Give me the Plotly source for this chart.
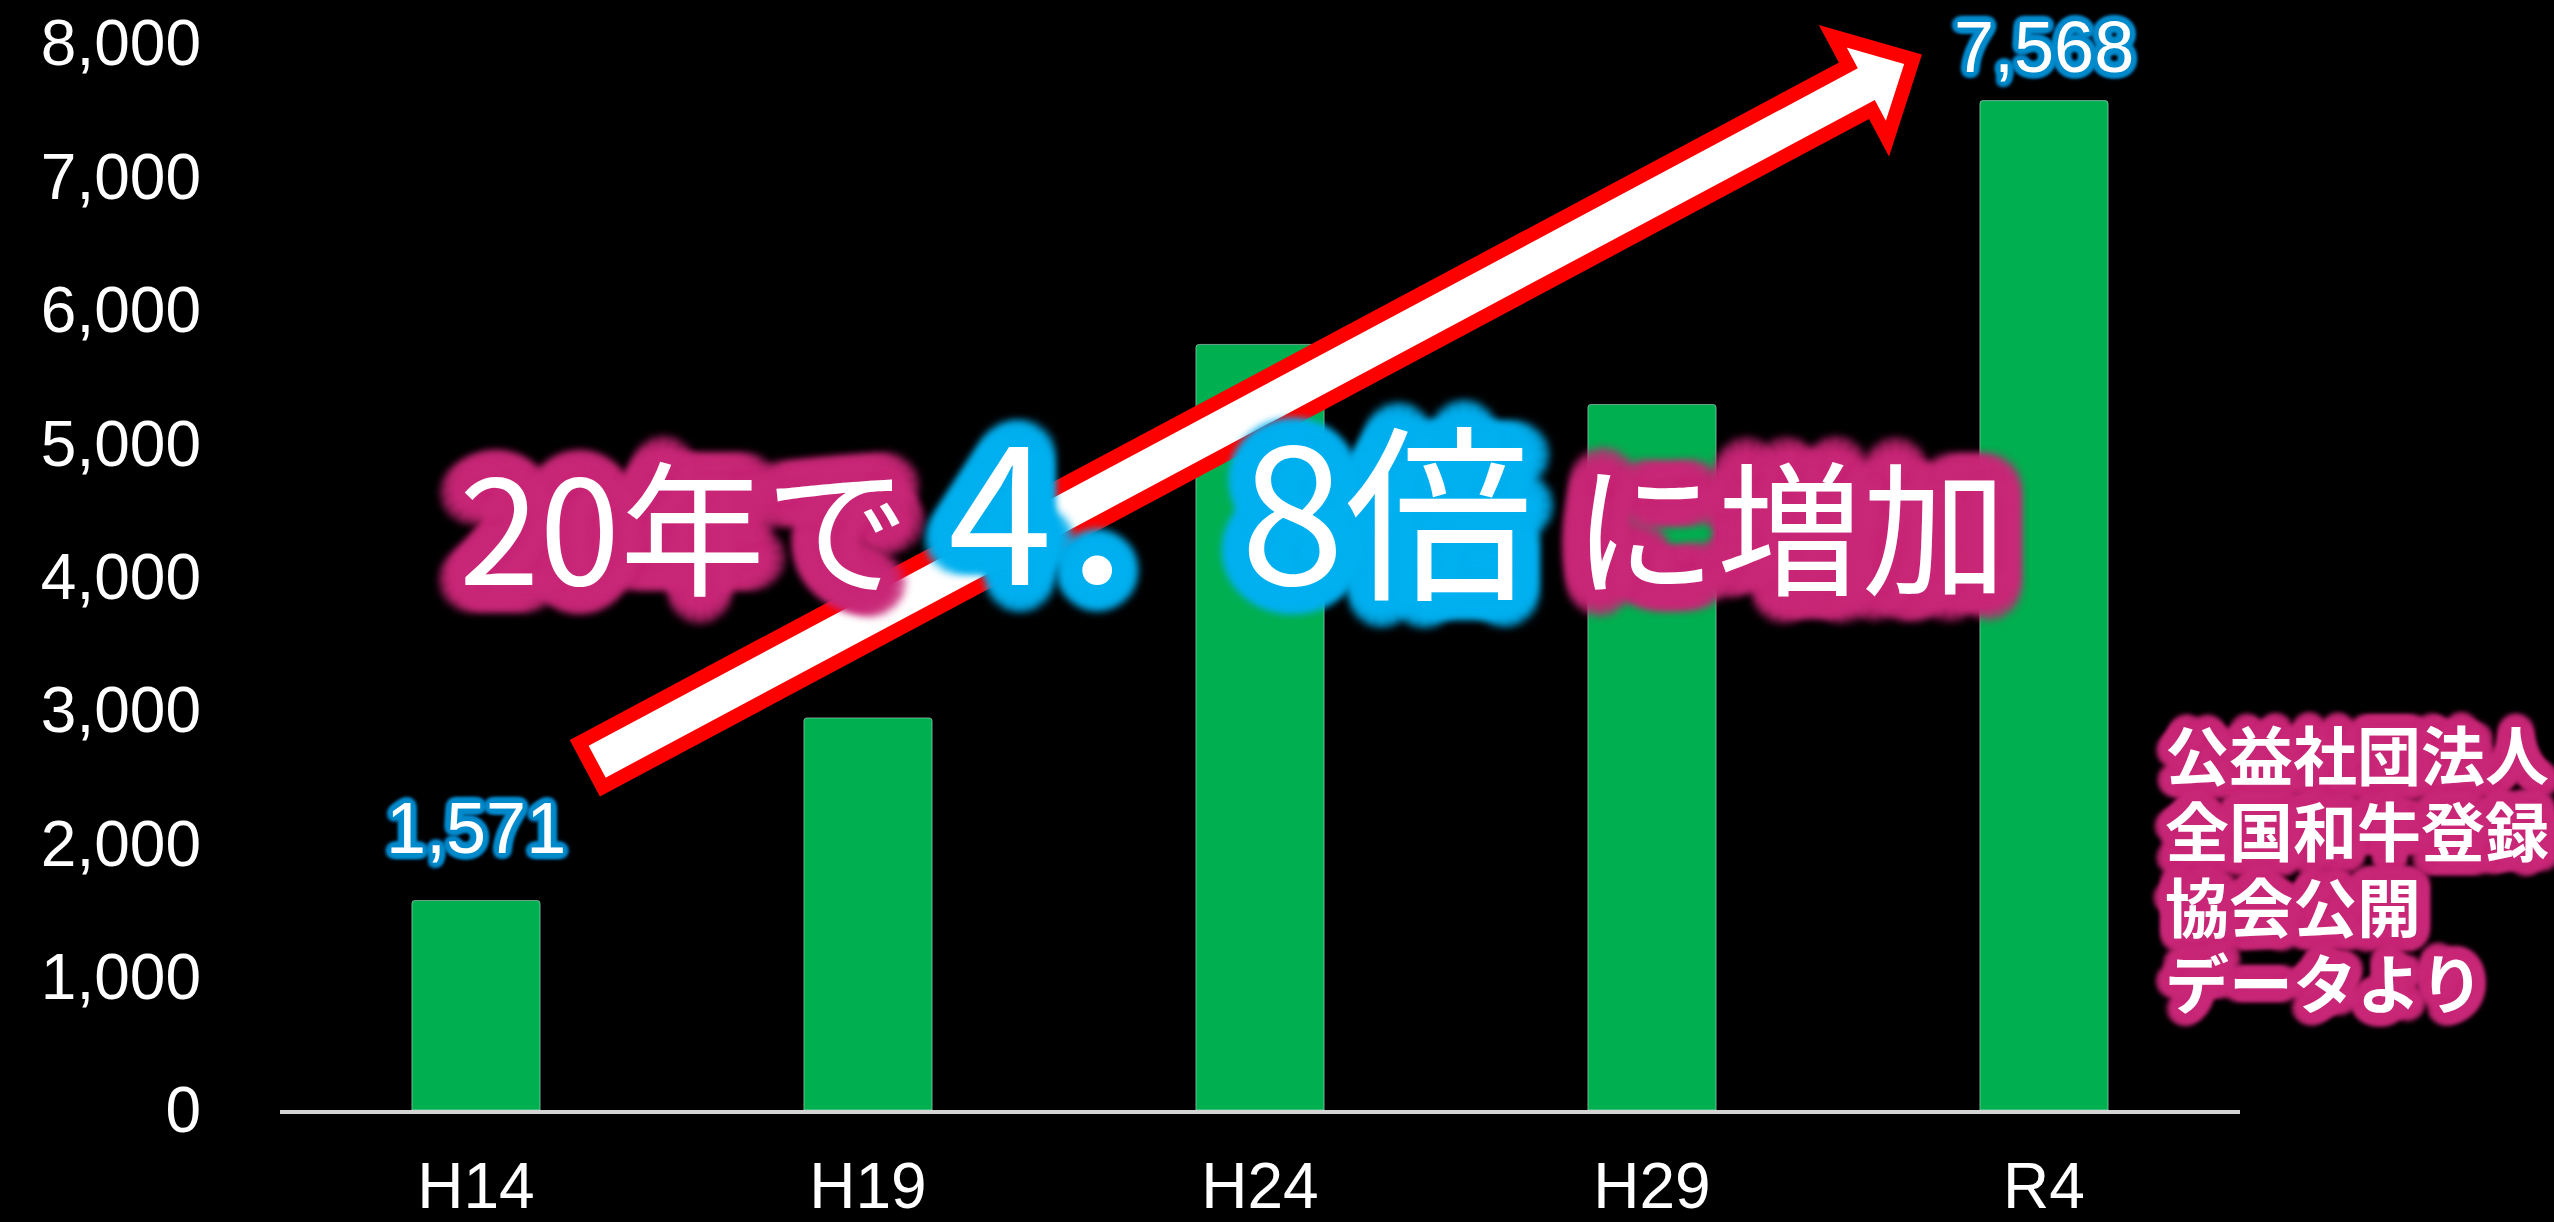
import math
import plotly.graph_objects as go

# data
categories = ['H14', 'H19', 'H24', 'H29', 'R4']
counts = [1571, 2940, 5740, 5290, 7568]
y_ticks = [0, 1000, 2000, 3000, 4000, 5000, 6000, 7000, 8000]
labelled = ['H14', 'R4']
label_shift = [72, 54]
headline = ['20年で', '4．8倍', 'に増加']
source_lines = ['公益社団法人', '全国和牛登録', '協会公開', 'データより']

W, H = 2554, 1222
L, R, T, B = 280, 2240, 43, 1110   # plot area in pixels

PINK = 'rgba(201,40,120,0.9)'
BLUE = 'rgba(0,176,240,0.9)'
LABEL_BLUE = 'rgba(0,140,205,0.85)'


def px(x):
    return (x - L) / (R - L)


def py(y):
    return (B - y) / (B - T)


def glow(color, r, blur, steps=16):
    # text-shadow ring, mimics the PowerPoint glow
    parts = []
    for rr in (r, r * 0.6, r * 0.3):
        for k in range(steps):
            a = 2 * math.pi * k / steps
            parts.append(f"{rr * math.cos(a):.1f}px {rr * math.sin(a):.1f}px {blur}px {color}")
    parts.append(f"0px 0px {blur}px {color}")
    return ', '.join(parts)


fig = go.Figure()

fig.add_trace(go.Bar(
    x=categories,
    y=counts,
    marker=dict(color='#00B050', cornerradius=3),
    width=0.327,
    hoverinfo='skip',
))

# big arrow (computed in pixels, placed in paper coords)
tail = (591, 765)
tip = (1921, 55)
dx, dy = tip[0] - tail[0], tip[1] - tail[1]
ln = math.hypot(dx, dy)
u = (dx / ln, dy / ln)
n = (-u[1], u[0])
w, hw, hl = 25, 58, 60
tp = (tip[0] - 9 * u[0], tip[1] - 9 * u[1])
base = (tp[0] - hl * u[0], tp[1] - hl * u[1])
pts = [
    (tail[0] - n[0] * w, tail[1] - n[1] * w),
    (base[0] - n[0] * w, base[1] - n[1] * w),
    (base[0] - n[0] * hw, base[1] - n[1] * hw),
    tp,
    (base[0] + n[0] * hw, base[1] + n[1] * hw),
    (base[0] + n[0] * w, base[1] + n[1] * w),
    (tail[0] + n[0] * w, tail[1] + n[1] * w),
]
path = 'M ' + ' L '.join(f'{px(a):.5f},{py(b):.5f}' for a, b in pts) + ' Z'
fig.add_shape(type='path', path=path, xref='paper', yref='paper',
              fillcolor='white', line=dict(color='#FF0000', width=14),
              layer='above')

# value labels on first and last bar
for cat, shift in zip(labelled, label_shift):
    val = counts[categories.index(cat)]
    fig.add_annotation(
        x=cat, y=val, text=f'{val:,}', showarrow=False,
        yanchor='middle', yshift=shift,
        font=dict(family='Liberation Sans', size=72, color='white',
                  shadow=glow(LABEL_BLUE, 5, 4, 12)),
    )

# headline "20年で 4．8倍 に増加"
head_pos = [(684, 522), (1240, 503), (1789, 522)]
head_size = [145, 188, 145]
head_glow = [PINK, BLUE, PINK]
for txt, (hx, hy), sz, col in zip(headline, head_pos, head_size, head_glow):
    fig.add_annotation(
        x=px(hx), y=py(hy), xref='paper', yref='paper',
        text=txt, showarrow=False, xanchor='center', yanchor='middle',
        font=dict(family='Noto Sans CJK JP', size=sz, color='white',
                  shadow=glow(col, 26, 8)),
    )

# source note, one line per annotation to keep the tight line pitch
for i, line in enumerate(source_lines):
    fig.add_annotation(
        x=px(2163), y=py(752 + 76 * i), xref='paper', yref='paper',
        text=line, showarrow=False, xanchor='left', yanchor='middle',
        font=dict(family='Noto Sans CJK JP', size=64, color='white', weight='bold',
                  shadow=glow(PINK, 13, 5)),
    )

fig.update_layout(
    width=W, height=H,
    margin=dict(l=L, r=W - R, t=T, b=H - B),
    paper_bgcolor='black',
    plot_bgcolor='black',
    showlegend=False,
    font=dict(family='Liberation Sans', color='white'),
    xaxis=dict(
        showline=True, linecolor='#D4D4D4', linewidth=4,
        showgrid=False, zeroline=False, ticks='', automargin=False,
        tickfont=dict(size=64, color='white'),
        ticklabelstandoff=17,
    ),
    yaxis=dict(
        range=[0, 8000], tickvals=y_ticks, tickformat=',',
        showgrid=False, zeroline=False, showline=False, ticks='', automargin=False,
        tickfont=dict(size=64, color='white'),
        ticklabelstandoff=78,
    ),
)

fig.write_html(
    'out.html',
    config={'displayModeBar': False},
    post_script="document.body.style.margin='0';document.body.style.background='black';"
                "document.body.style.overflow='hidden';",
)
